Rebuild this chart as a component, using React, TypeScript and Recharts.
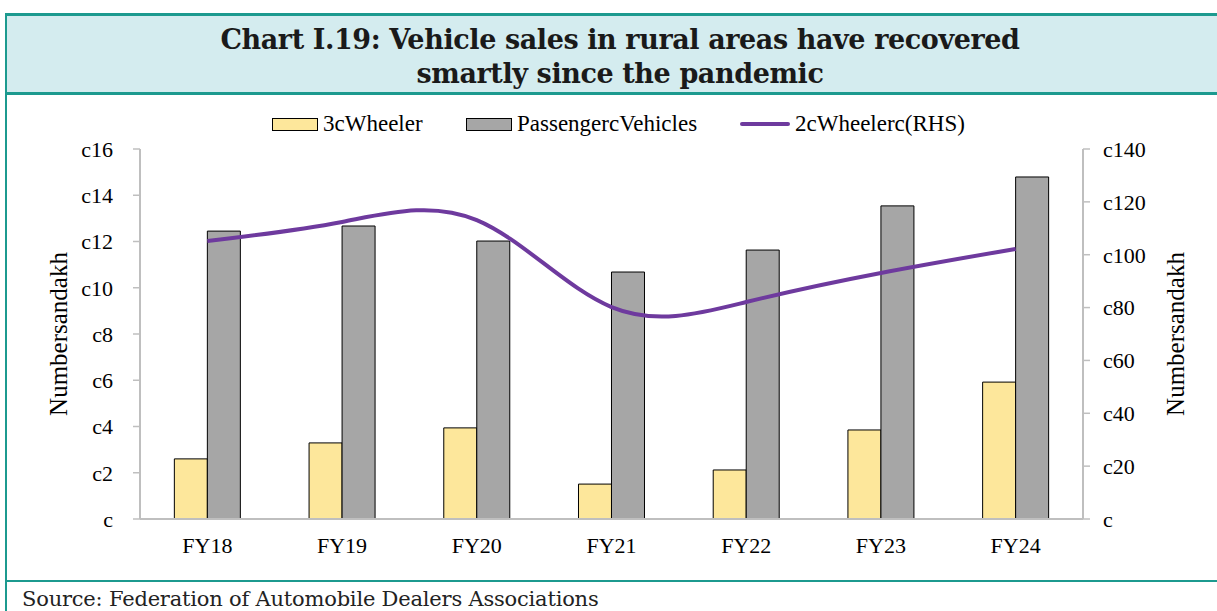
import { ComposedChart, Bar, Line, XAxis, YAxis } from "recharts";

const YEARS = ["FY18", "FY19", "FY20", "FY21", "FY22", "FY23", "FY24"];
const THREE_WHEELER = [2.6, 3.29, 3.94, 1.51, 2.12, 3.85, 5.92];
const PASSENGER = [12.45, 12.67, 12.02, 10.68, 11.63, 13.54, 14.79];
const TWO_WHEELER = [105.2, 112.4, 113.1, 80.2, 82.1, 93.1, 102.2];

const LEFT_TICKS = [0, 2, 4, 6, 8, 10, 12, 14, 16];
const RIGHT_TICKS = [0, 20, 40, 60, 80, 100, 120, 140];

const FONT = "Liberation Serif, Times New Roman, serif";
const AXIS_GRAY = "#bfbfbf";
const TEAL = "#1c9a8f";

// the reference shows these labels with a stray "c" glyph in front
const fmtTick = (v: number) => (v === 0 ? "c" : `c${v}`);

const data = YEARS.map((y, i) => ({
  year: y,
  three: THREE_WHEELER[i],
  pv: PASSENGER[i],
  two: TWO_WHEELER[i],
}));

const tickStyle = { fontSize: 22, fill: "#000", fontFamily: FONT };

function LegendRow() {
  const item = { display: "flex", alignItems: "center", position: "absolute" as const, top: 111 };
  const box = (bg: string) => ({
    width: 44,
    height: 11,
    background: bg,
    border: "1.5px solid #000",
    marginRight: 5,
  });
  return (
    <div style={{ fontFamily: FONT, fontSize: 23, color: "#000" }}>
      <div style={{ ...item, left: 272 }}>
        <div style={box("#fde79b")} />
        <span>3cWheeler</span>
      </div>
      <div style={{ ...item, left: 466 }}>
        <div style={box("#a6a6a6")} />
        <span>PassengercVehicles</span>
      </div>
      <div style={{ ...item, left: 740 }}>
        <div style={{ width: 50, height: 4, background: "#6e3a9e", borderRadius: 2, marginRight: 5 }} />
        <span>2cWheelerc(RHS)</span>
      </div>
    </div>
  );
}

export default function App() {
  return (
    <div
      style={{
        position: "absolute",
        left: 0,
        top: 0,
        width: 1217,
        height: 611,
        background: "#fff",
        overflow: "hidden",
        fontFamily: FONT,
      }}
    >
      {/* title box */}
      <div
        style={{
          position: "absolute",
          left: 5,
          top: 13,
          width: 1230,
          height: 76,
          background: "#d4ecef",
          borderTop: `3px solid ${TEAL}`,
          borderBottom: `3px solid ${TEAL}`,
          borderLeft: `2px solid ${TEAL}`,
        }}
      />
      <div
        style={{
          position: "absolute",
          left: 5,
          top: 23,
          width: 1230,
          textAlign: "center",
          fontFamily: "DejaVu Serif, serif",
          fontWeight: "bold",
          fontSize: 27,
          lineHeight: "34px",
          color: "#1a1a1a",
          letterSpacing: -0.4,
        }}
      >
        <div style={{ width: 1230 }}>Chart I.19: Vehicle sales in rural areas have recovered</div>
        <div style={{ width: 1230 }}>smartly since the pandemic</div>
      </div>

      {/* frame lines */}
      <div style={{ position: "absolute", left: 5, top: 92, width: 2, height: 530, background: TEAL }} />
      <div style={{ position: "absolute", left: 5, top: 580, width: 1230, height: 2, background: TEAL }} />

      <LegendRow />

      <div style={{ position: "absolute", left: 0, top: 0 }}>
        <ComposedChart
          width={1217}
          height={611}
          data={data}
          margin={{ top: 149, right: 34, bottom: 52, left: 40 }}
          barGap={0}
          barCategoryGap="25.5%"
          style={{ fontFamily: FONT }}
        >
          <XAxis
            dataKey="year"
            tickLine={false}
            tickSize={0}
            tickMargin={18}
            height={40}
            axisLine={{ stroke: AXIS_GRAY, strokeWidth: 2 }}
            tick={tickStyle}
          />
          <YAxis
            yAxisId="left"
            domain={[0, 16]}
            ticks={LEFT_TICKS}
            interval={0}
            width={100}
            tickSize={7}
            tickMargin={20}
            tickFormatter={fmtTick}
            axisLine={{ stroke: AXIS_GRAY, strokeWidth: 2 }}
            tickLine={{ stroke: AXIS_GRAY, strokeWidth: 1.5 }}
            tick={tickStyle}
            label={{
              value: "Numbersandakh",
              angle: -90,
              position: "insideLeft",
              offset: 18,
              style: { textAnchor: "middle", fontSize: 25, fill: "#000", fontFamily: FONT },
            }}
          />
          <YAxis
            yAxisId="right"
            orientation="right"
            domain={[0, 140]}
            ticks={RIGHT_TICKS}
            interval={0}
            width={100}
            tickSize={7}
            tickMargin={13}
            tickFormatter={fmtTick}
            axisLine={{ stroke: AXIS_GRAY, strokeWidth: 2 }}
            tickLine={{ stroke: AXIS_GRAY, strokeWidth: 1.5 }}
            tick={{ ...tickStyle, textAnchor: "start" }}
            label={{
              value: "Numbersandakh",
              angle: -90,
              position: "insideRight",
              offset: 8,
              style: { textAnchor: "middle", fontSize: 25, fill: "#000", fontFamily: FONT },
            }}
          />
          <Bar
            yAxisId="left"
            dataKey="three"
            fill="#fde79b"
            stroke="#000"
            strokeWidth={1}
            isAnimationActive={false}
          />
          <Bar
            yAxisId="left"
            dataKey="pv"
            fill="#a6a6a6"
            stroke="#000"
            strokeWidth={1}
            isAnimationActive={false}
          />
          <Line
            yAxisId="right"
            dataKey="two"
            type="natural"
            stroke="#6e3a9e"
            strokeWidth={4}
            dot={false}
            isAnimationActive={false}
          />
        </ComposedChart>
      </div>

      <div
        style={{
          position: "absolute",
          left: 22,
          top: 587,
          fontFamily: "DejaVu Serif, serif",
          fontSize: 21,
          color: "#222",
          letterSpacing: -0.2,
        }}
      >
        Source: Federation of Automobile Dealers Associations
      </div>
    </div>
  );
}
